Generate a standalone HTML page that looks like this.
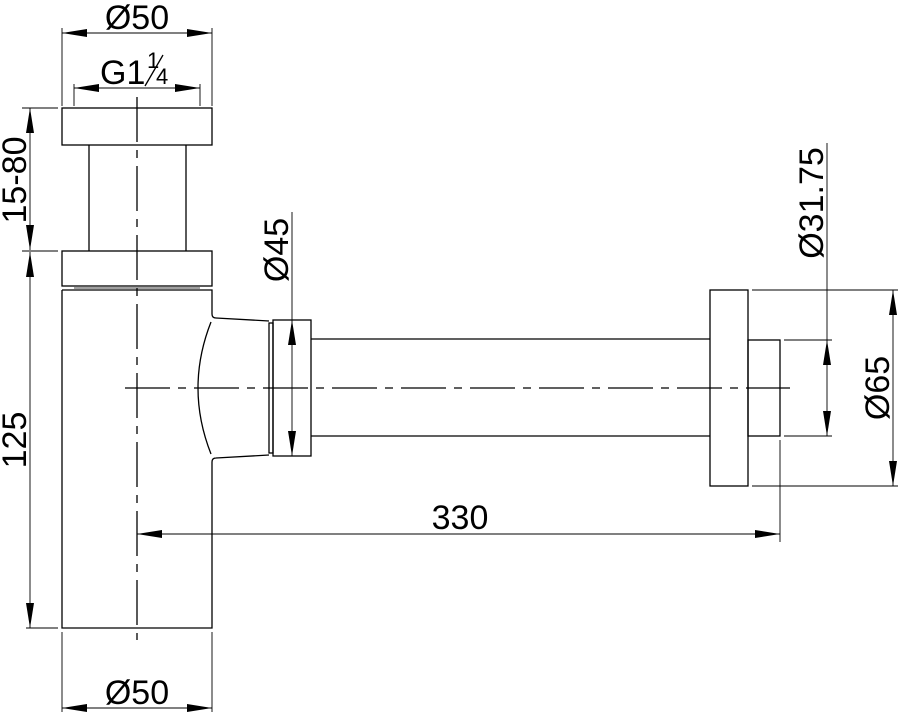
<!DOCTYPE html>
<html><head><meta charset="utf-8"><style>
html,body{margin:0;padding:0;background:#fff;}
svg{display:block;}
text{font-family:"Liberation Sans",Arial,sans-serif;fill:#000;}
</style></head><body>
<svg width="900" height="712" viewBox="0 0 900 712" xmlns="http://www.w3.org/2000/svg">
<g fill="none" stroke="#000" stroke-width="1.3">
<rect x="62" y="108" width="150" height="37"/>
<line x1="89" y1="145" x2="89" y2="251"/>
<line x1="186" y1="145" x2="186" y2="251"/>
<rect x="62" y="251" width="150" height="35"/>
<line x1="74" y1="288" x2="200" y2="288" stroke-width="0.8"/>
<path d="M62 290 L62 628 L212 628 L212 462 Q212 458 216 458 L269 455"/>
<path d="M62 290 L212 290 L212 314 Q212 318 216 318 L269 321"/>
<path d="M211 322 Q185 388 211 454"/>
<rect x="269" y="323" width="4" height="130"/>
<rect x="273" y="320" width="38" height="136"/>
<line x1="311" y1="339" x2="710" y2="339"/>
<line x1="311" y1="436" x2="710" y2="436"/>
<rect x="710" y="290" width="38" height="196"/>
<rect x="748" y="340" width="32" height="96"/>
<line x1="125" y1="388" x2="790" y2="388" stroke-dasharray="45,8,8,8"/>
<line x1="137" y1="97" x2="137" y2="640" stroke-dasharray="45,8,8,8"/>
</g>
<g fill="none" stroke="#000" stroke-width="0.9">
<line x1="62" y1="28" x2="62" y2="106"/>
<line x1="212" y1="28" x2="212" y2="106"/>
<line x1="74" y1="84" x2="74" y2="106"/>
<line x1="200" y1="84" x2="200" y2="106"/>
<line x1="62" y1="33" x2="212" y2="33"/>
<line x1="74" y1="88" x2="200" y2="88"/>
<line x1="22" y1="108" x2="58" y2="108"/>
<line x1="22" y1="251" x2="58" y2="251"/>
<line x1="26" y1="628" x2="58" y2="628"/>
<line x1="30" y1="108" x2="30" y2="250"/>
<line x1="30" y1="252" x2="30" y2="628"/>
<line x1="62" y1="632" x2="62" y2="712"/>
<line x1="212" y1="632" x2="212" y2="712"/>
<line x1="62" y1="708" x2="212" y2="708"/>
<line x1="292" y1="212" x2="292" y2="456"/>
<line x1="137" y1="534" x2="780" y2="534"/>
<line x1="780" y1="440" x2="780" y2="542"/>
<line x1="752" y1="290" x2="898" y2="290"/>
<line x1="752" y1="486" x2="898" y2="486"/>
<line x1="784" y1="340" x2="832" y2="340"/>
<line x1="784" y1="436" x2="832" y2="436"/>
<line x1="827" y1="143" x2="827" y2="436"/>
<line x1="893" y1="290" x2="893" y2="486"/>
</g>
<g fill="#000">
<polygon points="62,33 87,29 87,37"/><polygon points="212,33 187,29 187,37"/>
<polygon points="74,88 99,84 99,92"/><polygon points="200,88 175,84 175,92"/>
<polygon points="62,708 87,704 87,712"/><polygon points="212,708 187,704 187,712"/>
<polygon points="137,534 162,530 162,538"/><polygon points="780,534 755,530 755,538"/>
<polygon points="30,108 26,133 34,133"/><polygon points="30,250 26,225 34,225"/>
<polygon points="30,252 26,277 34,277"/><polygon points="30,628 26,603 34,603"/>
<polygon points="292,320 288,345 296,345"/><polygon points="292,456 288,431 296,431"/>
<polygon points="827,340 823,365 831,365"/><polygon points="827,436 823,411 831,411"/>
<polygon points="893,290 889,315 897,315"/><polygon points="893,486 889,461 897,461"/>
</g>
<g font-size="34">
<text x="137" y="29" text-anchor="middle">Ø50</text>
<text x="100" y="84">G1</text>
<text x="147" y="68" font-size="22">1</text>
<line x1="145" y1="86" x2="163" y2="55" stroke="#000" stroke-width="1.3"/>
<text x="156" y="84" font-size="22">4</text>
<text x="137" y="704" text-anchor="middle">Ø50</text>
<text x="460" y="529" text-anchor="middle">330</text>
<text transform="translate(26,180) rotate(-90)" text-anchor="middle">15-80</text>
<text transform="translate(26,440) rotate(-90)" text-anchor="middle">125</text>
<text transform="translate(288,250) rotate(-90)" text-anchor="middle">Ø45</text>
<text transform="translate(823,203) rotate(-90)" text-anchor="middle">Ø31.75</text>
<text transform="translate(889,388) rotate(-90)" text-anchor="middle">Ø65</text>
</g>
</svg>
</body></html>
